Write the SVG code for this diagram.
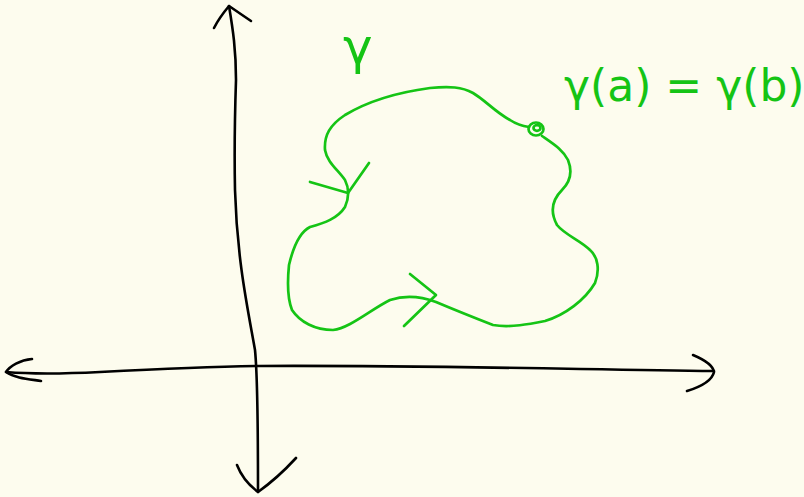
<svg xmlns="http://www.w3.org/2000/svg" width="804" height="497" viewBox="0 0 804 497">
<style>
.ax{fill:none;stroke:#000;stroke-width:2.6;stroke-linecap:round;stroke-linejoin:round}
.g{fill:none;stroke:#15c415;stroke-width:2.7;stroke-linecap:round;stroke-linejoin:round}
.t{fill:#15c415;font-family:"DejaVu Sans","Liberation Sans",sans-serif}
</style>
<rect width="804" height="497" fill="#fdfcee"/>
<g id="axes">
<path class="ax" d="M229,6 C233,30 236,50 236,80 C235,110 234,140 235,190 C237,260 248,310 255,350 C258,380 258,440 258,492"/>
<path class="ax" d="M214,28 C217,22 224,12 229,6 L251,21"/>
<path class="ax" d="M237,465 C242,478 250,486 258,492 C272,482 285,470 296,458"/>
<path class="ax" d="M6,372 C30,374 60,374 100,372 C160,369 200,367 258,366 C400,365 560,369 714,371"/>
<path class="ax" d="M32,359 C20,360 10,366 6,372 C15,378 28,379 41,381"/>
<path class="ax" d="M693,355 C705,360 713,365 714,372 C712,381 700,387 687,391"/>
</g>
<g id="curve">
<path class="g" d="M529,127 C522,126 516,124 510,120 C495,112 485,100 473,93 C462,87 450,86 430,88 C400,92 370,100 345,115 C330,125 324,135 325,150 C327,162 338,170 345,180 C349,188 349,198 345,207 C338,218 325,223 310,227 C300,232 293,248 289,265 C287,285 288,300 292,310 C300,322 315,330 333,330 C350,328 370,310 390,300 C405,295 420,296 436,302 C455,310 475,318 493,325 C510,328 530,324 545,321 C565,315 585,300 595,283 C600,270 598,257 590,250 C580,240 565,235 557,225 C550,212 552,200 562,190 C572,180 572,170 568,160 C563,150 555,145 542,136"/>
<ellipse class="g" cx="536" cy="129" rx="7.5" ry="6.5"/>
<ellipse class="g" cx="537" cy="128" rx="3.5" ry="2.8"/>
</g>
<g id="arrow1">
<path class="g" d="M310,182 L348,193 L369,163"/>
</g>
<g id="arrow2">
<path class="g" d="M410,274 L436,295 L404,326"/>
</g>
<g id="labels">
<text class="t" x="564" y="101" font-size="44">γ(a) = γ(b)</text>
<text class="t" x="343" y="64" font-size="50">γ</text>
</g>
</svg>
